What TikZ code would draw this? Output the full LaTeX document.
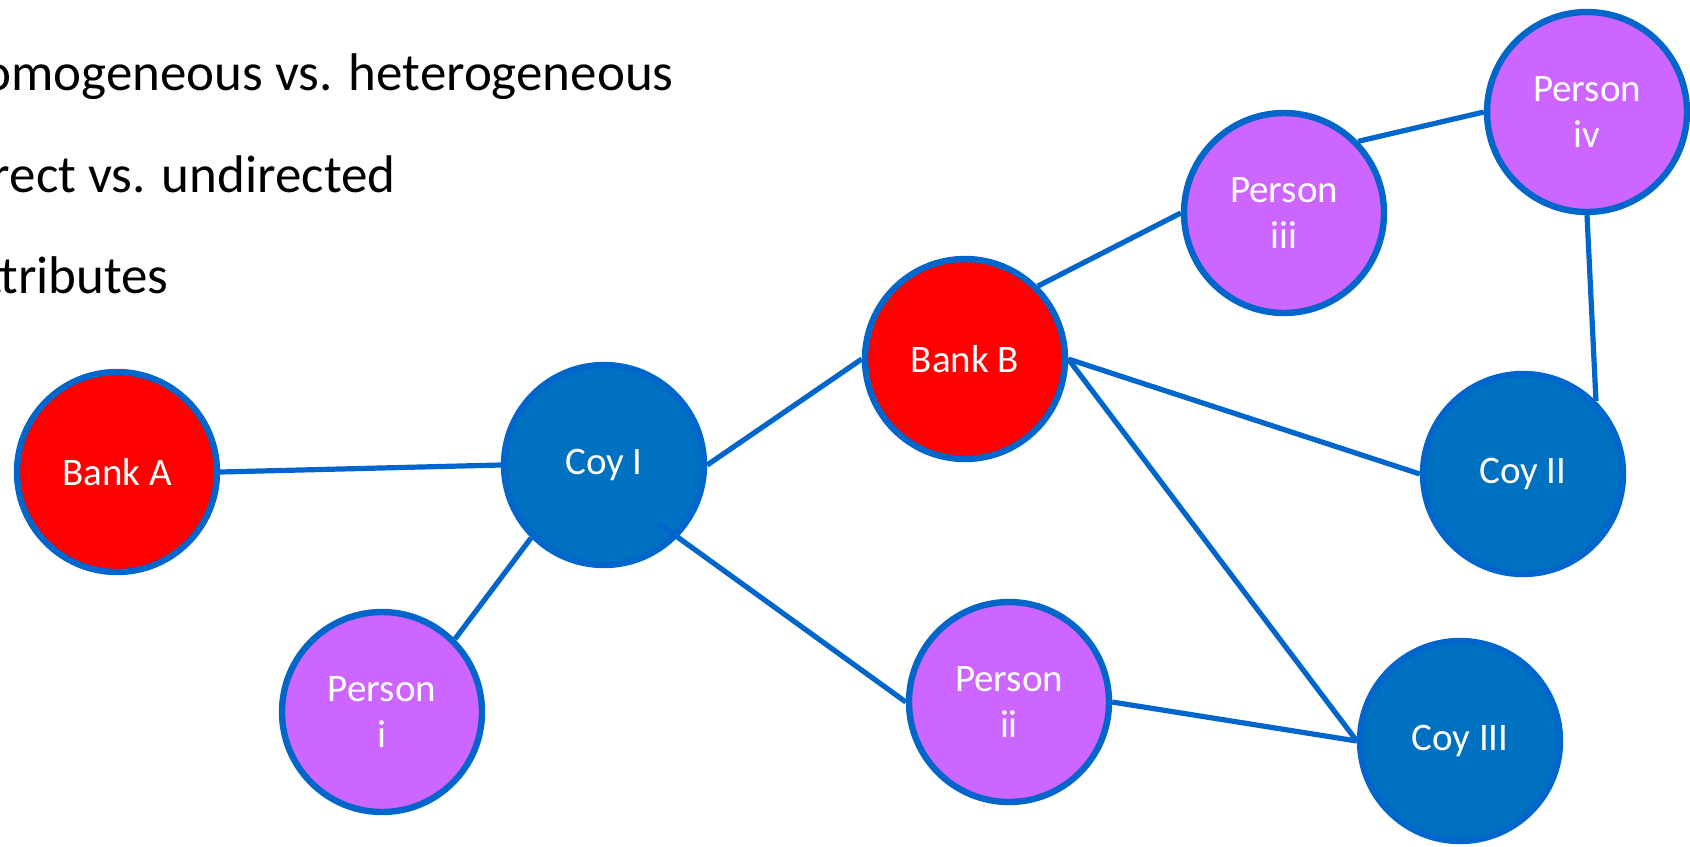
\documentclass[tikz,border=0pt]{standalone}
\usepackage{fontspec}
\setmainfont{Carlito}
\definecolor{edgeblue}{HTML}{0066CC}
\definecolor{bankred}{HTML}{FF0000}
\definecolor{coyblue}{HTML}{0070C0}
\definecolor{personpurple}{HTML}{CC66FF}
\begin{document}
\begin{tikzpicture}[x=0.5pt,y=-0.5pt,
  entity/.style={circle, draw=edgeblue, line width=3.2pt, minimum size=100pt,
    inner sep=0pt, text=white, align=center,
    font=\fontsize{19.5}{23}\selectfont},
  bank/.style={entity, fill=bankred},
  coy/.style={entity, fill=coyblue},
  person/.style={entity, fill=personpurple},
  link/.style={draw=edgeblue, line width=2.6pt},
  bulletline/.style={anchor=base east, inner sep=0pt,
    font=\fontsize{26.5}{30}\selectfont}]
\useasboundingbox (0,0) rectangle (1690,846);
\clip (0,0) rectangle (1690,846);

% list of graph properties, running off the left edge
\node[bulletline] (t1) at (674,90)  {Homogeneous vs. heterogeneous};
\node[bulletline] (t2) at (396,192) {Direct vs. undirected};
\node[bulletline] (t3) at (169,293) {Attributes};

% entities
\node[bank]   (bA) at (117,472)  {Bank A};
\node[coy]    (c1) at (604,465)  {Coy I};
\node[bank]   (bB) at (965,359)  {Bank B};
\node[person] (p1) at (382,712)  {Person\\i};
\node[person] (p2) at (1009,702) {Person\\ii};
\node[person] (p3) at (1284,213) {Person\\iii};
\node[person] (p4) at (1587,112) {Person\\iv};
\node[coy]    (c2) at (1523,474) {Coy II};
\node[coy]    (c3) at (1460,741) {Coy III};

% a link that starts inside Coy I
\coordinate (c1in) at (658,523);

% relationships
\draw[link] (bA.east) -- (c1.west);
\draw[link] (c1.east) -- (bB.west);
\draw[link] (c1.225) -- (p1.45);
\draw[link] (c1in) -- (p2.west);
\draw[link] (bB.45) -- (p3.west);
\draw[link] (p3.44) -- (p4.west);
\draw[link] (p4.south) -- (c2.45);
\draw[link] (bB.east) -- (c2.west);
\draw[link] (bB.east) -- (c3.west);
\draw[link] (p2.east) -- (c3.west);
\end{tikzpicture}
\end{document}
